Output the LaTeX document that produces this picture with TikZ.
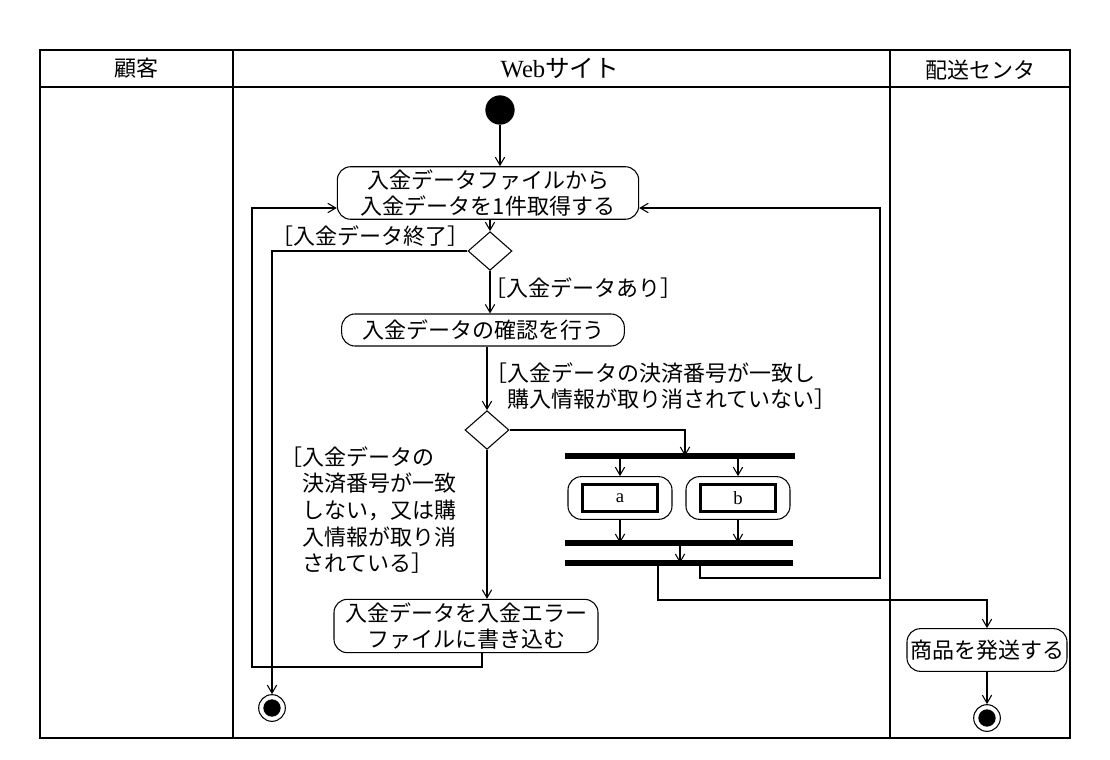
\documentclass[tikz,border=0pt]{standalone}
\usepackage{fontspec}
\setmainfont{Liberation Serif}
\newfontfamily\jp{Noto Sans CJK JP}
\usetikzlibrary{shapes.geometric,positioning,arrows.meta}
\begin{document}
\begin{tikzpicture}[x=0.75pt,y=-0.75pt,>={Straight Barb[length=6pt,width=7pt]},thick,font=\jp\fontsize{16.5}{20}\selectfont,
  act/.style={draw,rounded corners=10pt,align=center,inner sep=2pt},
  dec/.style={draw,diamond,minimum width=33pt,minimum height=29pt,inner sep=0pt},
  bar/.style={line width=4.5pt},
  guard/.style={align=left,inner sep=1pt}]
\useasboundingbox (0,0) rectangle (1110,760);
% swimlanes
\draw (40,50) rectangle (1070,738);
\draw (40,87) -- (1070,87);
\draw (233,50) -- (233,738);
\draw (890,50) -- (890,738);
\node (l1) at (136,68) {顧客};
\node (l2) at (560,68) {\rmfamily\fontsize{18.5}{20}\selectfont Web\jp サイト};
\node (l3) at (980,70) {配送センタ};
% nodes
\node[circle,fill,minimum size=22pt,inner sep=0pt] (start) at (500,110) {};
\node[act,minimum width=226pt,minimum height=38pt] (get) at (488,193) {入金データファイルから\\入金データを1件取得する};
\node[dec] (d1) at (490,251) {};
\node[act,minimum width=212pt,minimum height=24pt] (check) at (483,330) {入金データの確認を行う};
\node[dec] (d2) at (487,430) {};
\node[act,minimum width=198pt,minimum height=40pt] (err) at (466,626) {入金データを入金エラー\\ファイルに書き込む};
\node[act,minimum width=120pt,minimum height=32pt,inner sep=1pt] (ship) at (987,650) {商品を発送する};
\node[draw,circle,minimum size=20pt,inner sep=0pt] (end1) at (272,708) {};
\fill (end1) circle (6.5pt);
\node[draw,circle,minimum size=20pt,inner sep=0pt] (end2) at (987,718) {};
\fill (end2) circle (6.5pt);
% fork / join
\coordinate (f1l) at (565,456); \coordinate (f1r) at (795,456);
\coordinate (j1l) at (565,543); \coordinate (j1r) at (793,543);
\coordinate (j2l) at (565,563); \coordinate (j2r) at (793,563);
\draw[bar] (f1l) -- (f1r);
\draw[bar] (j1l) -- (j1r);
\draw[bar] (j2l) -- (j2r);
\node[act,minimum width=78pt,minimum height=32pt] (ao) at (620,498) {};
\node[draw,line width=2pt,minimum width=56pt,minimum height=20pt,inner sep=0pt,font=\rmfamily\fontsize{14}{16}\selectfont] (a) at (ao) {a};
\node[act,minimum width=78pt,minimum height=32pt] (bo) at (738,498) {};
\node[draw,line width=2pt,minimum width=56pt,minimum height=20pt,inner sep=0pt,font=\rmfamily\fontsize{14}{16}\selectfont] (b) at (bo) {b};
% flows
\draw[->] (start) -- (get.north -| start);
\draw[->] (get.south -| d1) -- (d1);
\draw[->] (d1) -- (check.north -| d1);
\draw[->] (check.south -| d2) -- (d2);
\draw[->] (d2) -- (err.north -| d2);
\draw[->] (d1.west) -| (end1);
\draw[->] (err.south -| 482,0) |- (252,667) |- (get.west |- 0,208);
\draw[->] (d2.east) -| (685,456);
\draw[->] (620,456) -- (ao);
\draw[->] (738,456) -- (bo);
\draw[->] (ao) -- (620,543);
\draw[->] (bo) -- (738,543);
\draw[->] (680,543) -- (680,563);
\draw[->] (700,563) |- (880,578) |- (get.east |- 0,208);
\draw[->] (658,563) |- (987,600) -- (ship);
\draw[->] (ship) -- (end2);
% guards
\node[guard] (g1) at (370,236) {［入金データ終了］};
\node[guard] (g2) at (583,288) {［入金データあり］};
\node[guard] (g3) at (661,386) {［入金データの決済番号が一致し\\\hphantom{［}購入情報が取り消されていない］};
\node[guard] (g4) at (368,510) {［入金データの\\\hphantom{［}決済番号が一致\\\hphantom{［}しない，又は購\\\hphantom{［}入情報が取り消\\\hphantom{［}されている］};
\end{tikzpicture}
\end{document}
